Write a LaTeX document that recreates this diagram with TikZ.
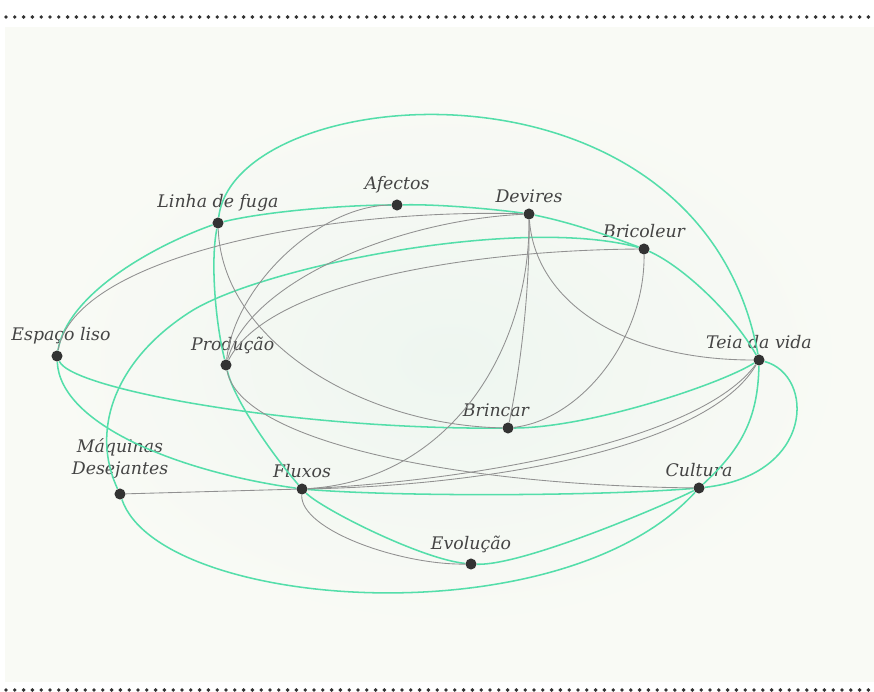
\documentclass[tikz,border=0pt]{standalone}
\usepackage{fontspec}
\setmainfont{DejaVu Serif}
\usetikzlibrary{positioning}

\definecolor{linkgreen}{RGB}{84,222,170}
\definecolor{linkgray}{RGB}{145,145,145}
\definecolor{dotgray}{RGB}{51,51,51}
\definecolor{panel}{RGB}{249,250,245}
\definecolor{glow}{RGB}{238,246,240}
\definecolor{labelgray}{RGB}{68,68,68}

\tikzset{
  dot/.style={circle, fill=dotgray, inner sep=0pt, minimum size=8.3pt},
  lbl/.style={font=\fontsize{13}{15}\selectfont\itshape, text=labelgray, inner sep=2pt, align=center},
  greenlink/.style={linkgreen, line width=1.15pt},
  graylink/.style={linkgray, line width=0.65pt},
  dotrow/.style={dotgray, line width=2.9pt, line cap=round, dash pattern=on 0pt off 6.6pt}
}

\begin{document}
\begin{tikzpicture}[x=0.75pt, y=-0.75pt, label distance=2pt]
  \useasboundingbox (0,0) rectangle (874,692);
  % panel
  \fill[panel] (5,27) rectangle (874,682);
  \shade[inner color=glow, outer color=panel] (450,360) ellipse (400 and 270);
  \draw[dotrow] (6,17) -- (872,17);
  \draw[dotrow] (6,690) -- (872,690);

  % concepts
  \node[dot, label={[lbl]above:Linha de fuga}] (linha) at (218,223) {};
  \node[dot, label={[lbl]above:Afectos}] (afectos) at (397,205) {};
  \node[dot, label={[lbl]above:Devires}] (devires) at (529,214) {};
  \node[dot, label={[lbl]above:Bricoleur}] (bricoleur) at (644,249) {};
  \node[dot, label={[lbl,xshift=3pt]above:Espaço liso}] (espaco) at (57,356) {};
  \node[dot, label={[lbl,xshift=5pt]above:Produção}] (producao) at (226,365) {};
  \node[dot, label={[lbl]above:Teia da vida}] (teia) at (759,360) {};
  \node[dot, label={[lbl,xshift=-9pt]above:Brincar}] (brincar) at (508,428) {};
  \node[dot, label={[lbl,yshift=3pt,align=center,font=\fontsize{13}{16.5}\selectfont\itshape]above:Máquinas\\Desejantes}] (maquinas) at (120,494) {};
  \node[dot, label={[lbl]above:Fluxos}] (fluxos) at (302,489) {};
  \node[dot, label={[lbl]above:Cultura}] (cultura) at (699,488) {};
  \node[dot, label={[lbl]above:Evolução}] (evolucao) at (471,564) {};
  \coordinate (arcbend) at (190,312);

  % green links
  \draw[greenlink] (espaco) .. controls (67,296) and (148,248) .. (linha);
  \draw[greenlink] (linha) .. controls (268,211) and (347,205) .. (afectos);
  \draw[greenlink] (afectos) .. controls (437,204) and (494,209) .. (devires);
  \draw[greenlink] (devires) .. controls (569,222) and (604,234) .. (bricoleur);
  \draw[greenlink] (bricoleur) .. controls (684,267) and (734,315) .. (teia);
  \draw[greenlink] (linha) .. controls (235,80) and (700,40) .. (teia);
  \draw[greenlink] (linha) .. controls (210,263) and (216,325) .. (producao);
  \draw[greenlink] (producao) .. controls (234,400) and (272,454) .. (fluxos);
  \draw[greenlink] (fluxos) .. controls (322,509) and (421,559) .. (evolucao);
  \draw[greenlink] (evolucao) .. controls (521,566) and (659,508) .. (cultura);
  \draw[greenlink] (espaco) .. controls (60,425) and (180,472) .. (fluxos);
  \draw[greenlink] (fluxos) .. controls (402,497) and (599,496) .. (cultura);
  \draw[greenlink] (espaco) .. controls (72,390) and (300,430) .. (brincar);
  \draw[greenlink] (brincar) .. controls (588,428) and (719,385) .. (teia);
  \draw[greenlink] (maquinas) .. controls (90,430) and (115,360) .. (arcbend)
                   .. controls (260,267) and (520,215) .. (bricoleur);
  \draw[greenlink] (maquinas) .. controls (160,610) and (560,640) .. (cultura);
  \draw[greenlink] (teia) .. controls (815,375) and (815,475) .. (cultura);
  \draw[greenlink] (teia) .. controls (758,420) and (740,450) .. (cultura);

  % gray links
  \draw[graylink] (espaco) .. controls (75,255) and (330,208) .. (devires);
  \draw[graylink] (afectos) .. controls (320,205) and (235,285) .. (producao);
  \draw[graylink] (devires) .. controls (400,220) and (250,280) .. (producao);
  \draw[graylink] (bricoleur) .. controls (480,250) and (270,280) .. (producao);
  \draw[graylink] (linha) .. controls (222,340) and (360,425) .. (brincar);
  \draw[graylink] (devires) .. controls (530,350) and (450,480) .. (fluxos);
  \draw[graylink] (devires) .. controls (530,300) and (518,380) .. (brincar);
  \draw[graylink] (devires) .. controls (535,300) and (620,360) .. (teia);
  \draw[graylink] (bricoleur) .. controls (645,340) and (580,420) .. (brincar);
  \draw[graylink] (maquinas) -- (fluxos);
  \draw[graylink] (fluxos) .. controls (480,480) and (700,440) .. (teia);
  \draw[graylink] (fluxos) .. controls (480,486) and (706,450) .. (teia);
  \draw[graylink] (producao) .. controls (240,440) and (450,485) .. (cultura);
  \draw[graylink] (fluxos) .. controls (300,530) and (400,565) .. (evolucao);
\end{tikzpicture}
\end{document}
